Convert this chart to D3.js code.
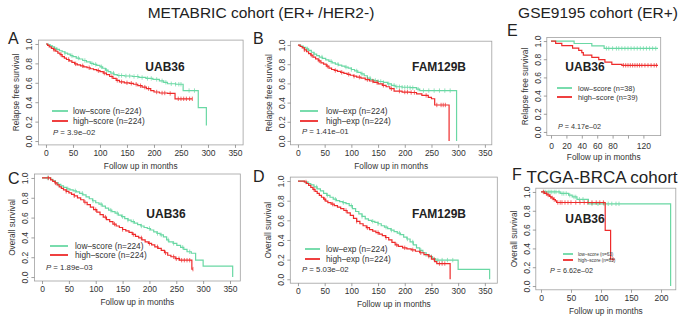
<!DOCTYPE html>
<html>
<head>
<meta charset="utf-8">
<script src="https://cdn.jsdelivr.net/npm/d3@7"></script>
<style>
  body { margin: 0; background: #fff; }
  svg text { font-family: "Liberation Sans", Arial, Helvetica, sans-serif; }
</style>
</head>
<body>
<svg id="fig" width="685" height="316"></svg>
<script>
// ---- data: [months, survival] steps ----
var uabRfsLow = [[0,1],[4,0.99],[8,0.98],[12,0.97],[16,0.955],[20,0.945],[25,0.93],[30,0.92],[35,0.905],[40,0.895],[45,0.88],[50,0.87],[56,0.855],[62,0.845],[68,0.83],[75,0.815],[82,0.8],[88,0.79],[94,0.78],[100,0.765],[105,0.75],[110,0.73],[115,0.715],[120,0.7],[126,0.685],[132,0.675],[145,0.67],[160,0.665],[172,0.655],[185,0.645],[198,0.635],[210,0.62],[218,0.605],[225,0.59],[240,0.585],[254,0.52],[282,0.345],[297,0.16]];
var uabRfsHigh = [[0,1],[3,0.985],[6,0.97],[10,0.955],[14,0.94],[18,0.925],[22,0.905],[26,0.89],[30,0.87],[34,0.855],[38,0.84],[43,0.825],[48,0.81],[53,0.795],[58,0.785],[64,0.775],[70,0.765],[76,0.755],[82,0.745],[88,0.735],[94,0.725],[100,0.715],[106,0.7],[112,0.685],[118,0.665],[124,0.645],[130,0.625],[136,0.61],[145,0.6],[155,0.595],[162,0.585],[170,0.57],[178,0.555],[186,0.54],[194,0.52],[200,0.505],[210,0.495],[225,0.49],[239,0.435],[271,0.435]];
var famRfsLow = [[0,1],[5,0.99],[10,0.975],[15,0.96],[20,0.945],[25,0.925],[30,0.905],[35,0.89],[40,0.875],[46,0.86],[52,0.845],[58,0.83],[64,0.815],[70,0.8],[76,0.79],[82,0.78],[88,0.77],[94,0.76],[100,0.745],[106,0.73],[112,0.715],[118,0.7],[124,0.68],[130,0.655],[136,0.64],[142,0.63],[150,0.62],[160,0.61],[168,0.595],[175,0.58],[182,0.565],[195,0.56],[210,0.555],[222,0.54],[228,0.525],[297,0]];
var famRfsHigh = [[0,1],[4,0.985],[8,0.97],[12,0.95],[16,0.93],[20,0.91],[24,0.895],[28,0.875],[33,0.855],[38,0.835],[43,0.815],[48,0.8],[53,0.78],[58,0.76],[63,0.745],[68,0.735],[74,0.725],[80,0.715],[86,0.705],[92,0.695],[98,0.685],[104,0.675],[110,0.665],[118,0.655],[126,0.64],[134,0.625],[142,0.61],[150,0.595],[158,0.58],[165,0.565],[172,0.545],[180,0.52],[195,0.51],[210,0.505],[222,0.49],[232,0.475],[244,0.455],[250,0.44],[256,0.375],[283,0]];
var uabOsLow = [[0,1],[16,0.985],[20,0.97],[25,0.95],[30,0.935],[35,0.92],[40,0.905],[46,0.89],[52,0.88],[58,0.87],[64,0.86],[70,0.845],[76,0.83],[82,0.81],[88,0.79],[94,0.77],[100,0.75],[106,0.735],[112,0.715],[118,0.695],[124,0.675],[130,0.66],[136,0.645],[142,0.625],[148,0.61],[154,0.59],[160,0.575],[166,0.56],[172,0.545],[178,0.53],[184,0.515],[190,0.5],[196,0.49],[202,0.475],[208,0.455],[214,0.44],[220,0.425],[226,0.405],[232,0.375],[236,0.355],[244,0.34],[251,0.32],[258,0.3],[264,0.28],[270,0.255],[278,0.24],[286,0.17],[300,0.11],[355,0]];
var uabOsHigh = [[0,1],[16,0.98],[20,0.965],[24,0.95],[28,0.93],[32,0.91],[36,0.895],[40,0.88],[45,0.865],[50,0.85],[55,0.835],[60,0.82],[66,0.8],[72,0.78],[78,0.755],[84,0.73],[90,0.705],[96,0.68],[102,0.655],[108,0.63],[114,0.605],[120,0.58],[126,0.56],[132,0.535],[138,0.515],[144,0.5],[150,0.48],[156,0.465],[162,0.45],[168,0.43],[174,0.41],[180,0.395],[186,0.375],[192,0.355],[198,0.34],[204,0.325],[210,0.305],[216,0.29],[222,0.27],[228,0.245],[234,0.22],[240,0.205],[248,0.185],[256,0.17],[279,0.08],[281,0.08]];
var famOsLow = [[0,1],[12,0.99],[18,0.975],[24,0.96],[30,0.94],[36,0.92],[42,0.9],[48,0.875],[54,0.855],[60,0.835],[66,0.815],[72,0.8],[78,0.79],[84,0.78],[90,0.77],[96,0.75],[102,0.72],[108,0.69],[114,0.665],[120,0.64],[126,0.615],[132,0.6],[138,0.59],[144,0.58],[150,0.565],[156,0.545],[162,0.53],[168,0.515],[174,0.5],[180,0.485],[186,0.47],[192,0.455],[198,0.43],[204,0.41],[210,0.38],[216,0.35],[222,0.32],[228,0.295],[234,0.27],[240,0.25],[246,0.23],[252,0.21],[258,0.195],[300,0.1],[359,0]];
var famOsHigh = [[0,1],[12,0.99],[16,0.975],[20,0.955],[24,0.935],[28,0.915],[32,0.895],[36,0.875],[40,0.855],[44,0.835],[48,0.815],[52,0.795],[56,0.78],[62,0.765],[68,0.75],[74,0.735],[80,0.72],[86,0.7],[92,0.675],[98,0.65],[104,0.62],[110,0.59],[116,0.565],[122,0.545],[128,0.525],[134,0.505],[140,0.49],[146,0.475],[152,0.46],[158,0.445],[164,0.425],[170,0.4],[176,0.375],[182,0.35],[188,0.335],[196,0.32],[204,0.31],[212,0.3],[220,0.285],[228,0.27],[236,0.25],[244,0.235],[250,0.205],[256,0.18],[260,0.16],[285,0]];
var uabGseLow = [[0,1],[30,0.973],[53,0.946],[69,0.919],[139,0.919]];
var uabGseHigh = [[0,1],[6,0.974],[14,0.949],[28,0.923],[36,0.897],[40,0.872],[42,0.846],[53,0.82],[62,0.795],[70,0.769],[79,0.744],[92,0.733],[139,0.733]];
var uabTcgaLow = [[0,1],[32,0.984],[46,0.966],[52,0.947],[60,0.922],[79,0.874],[216,0]];
var uabTcgaHigh = [[0,1],[6,0.984],[10,0.968],[14,0.952],[17,0.936],[21,0.92],[24,0.905],[26,0.888],[107,0.592],[116,0.285],[123,0.285]];

// censored times (months)
var uabRfsLowCens = [20,35,48,60,72,85,92,103,112,125,135,140,148,155,163,170,178,188,195,205,215,222,232,240,246,250,265,275];
var uabRfsHighCens = [15,28,42,55,68,80,97,108,122,132,140,150,158,167,175,183,190,205,215,220,230,245,250,255,260,266,271];
var famRfsLowCens = [18,30,45,62,75,90,100,110,120,135,145,150,155,160,170,180,185,190,195,200,205,210,215,225,235,245,255,265,275,285];
var famRfsHighCens = [12,25,40,55,70,82,95,105,115,130,140,148,160,175,190,200,205,212,218,240,260,268,272,276];
var uabOsLowCens = [10,30,48,62,75,95,110,128,140,150,160,170,185,200,215,222,235,245,262,275];
var uabOsHighCens = [12,25,45,60,80,100,118,135,150,170,185,200,215,230,245,250,255,260,265,270,275,281];
var famOsLowCens = [20,35,55,70,85,100,120,140,150,165,175,190,205,215,230,240,250,262,270,280,290];
var famOsHighCens = [15,30,50,65,90,110,130,150,165,185,200,215,230,245,255,265,270,275];
var uabGseLowCens = [72,75,80,85,88,92,96,100,104,108,112,116,120,124,128,132,136];
var uabGseHighCens = [94,97,100,103,106,109,112,115,118,122,126,130,134,137];
var uabTcgaLowCens = [5,8,12,15,18,22,25,30,35,38,42,48,55,58,64,70,85,95,105,112,118,125,130];
var uabTcgaHighCens = [4,9,12,16,19,22,28,32,35,40,45,50,58,65,72,78,85,92,98,104,120];

// tick values and labels
var yTicks = [0, 0.2, 0.4, 0.6, 0.8, 1.0];
var metabricXTicks = [0, 50, 100, 150, 200, 250, 300, 350];
var gseXTicks = [0, 20, 40, 60, 80, 100, 120];
var tcgaXTicks = [0, 50, 100, 150, 200];

var scoreLabels = ["low\u2013score", "high\u2013score"];
var expLabels = ["low\u2013exp", "high\u2013exp"];
var pValues = ["3.9e\u201302", "1.41e\u201301", "1.89e\u201303", "5.03e\u201302", "4.17e\u201302", "6.62e\u201302"];
var groupSizes = [[224, 224], [224, 224], [224, 224], [224, 224], [38, 39], [63, 63]];

var green = "#6ad8a4", red = "#ee2b2b";

// ---- layout ----
var panels = [
  { id: "A", box: [38.4, 40.1, 204.7, 104.8], xmax: 351, xticks: metabricXTicks, ylab: "Relapse free survival",
    gene: "UAB36", labels: scoreLabels, low: uabRfsLow, high: uabRfsHigh, lowC: uabRfsLowCens, highC: uabRfsHighCens,
    letter: [8, 38], geneAt: [165, 67], leg: [52, 68, 73, 111, 121], pAt: [53, 132], fs: 8.3, pfs: 7.8 },
  { id: "B", box: [290.5, 41.2, 201.3, 103.6], xmax: 349, xticks: metabricXTicks, ylab: "Relapse free survival",
    gene: "FAM129B", labels: expLabels, low: famRfsLow, high: famRfsHigh, lowC: famRfsLowCens, highC: famRfsHighCens,
    letter: [253, 38], geneAt: [439, 67], leg: [300, 318, 326, 111, 121], pAt: [302, 131], fs: 8.3, pfs: 7.8 },
  { id: "C", box: [34.4, 174.0, 205.9, 107.0], xmax: 355, xticks: metabricXTicks, ylab: "Overall survival",
    gene: "UAB36", labels: scoreLabels, low: uabOsLow, high: uabOsHigh, lowC: uabOsLowCens, highC: uabOsHighCens,
    letter: [8, 178], geneAt: [166, 214], leg: [50, 68, 75, 246, 255], pAt: [46, 267], fs: 8.3, pfs: 7.8 },
  { id: "D", box: [290.3, 177.1, 207, 106.1], xmax: 359, xticks: metabricXTicks, ylab: "Overall survival",
    gene: "FAM129B", labels: expLabels, low: famOsLow, high: famOsHigh, lowC: famOsLowCens, highC: famOsHighCens,
    letter: [253, 176], geneAt: [439, 214], leg: [305, 320, 326, 249, 259], pAt: [302, 269], fs: 8.3, pfs: 7.8 },
  { id: "E", box: [546.8, 37.4, 113.9, 98.2], xmax: 137, xticks: gseXTicks, ylab: "Relapse free survival",
    gene: "UAB36", labels: scoreLabels, low: uabGseLow, high: uabGseHigh, lowC: uabGseLowCens, highC: uabGseHighCens,
    letter: [507, 30], geneAt: [585, 67], leg: [557, 572, 578, 88, 97], pAt: [558, 126], fs: 7.4, pfs: 7.2, skip: [100], pad: 4 },
  { id: "F", box: [535.8, 188.2, 140, 101.6], xmax: 216, xticks: tcgaXTicks, ylab: "Overall survival",
    gene: "UAB36", labels: scoreLabels, low: uabTcgaLow, high: uabTcgaHigh, lowC: uabTcgaLowCens, highC: uabTcgaHighCens,
    letter: [512, 174], geneAt: [585, 219], leg: [563, 573, 578, 254, 260], pAt: [550, 270], fs: 4.6, pfs: 7.2 }
];

var svg = d3.select("#fig");

// cohort titles
svg.append("text").attr("x", 261).attr("y", 12).attr("text-anchor", "middle")
    .attr("dominant-baseline", "central").style("font-size", "15.5px").attr("fill", "#222")
    .text("METABRIC cohort (ER+ /HER2-)");
svg.append("text").attr("x", 598).attr("y", 12).attr("text-anchor", "middle")
    .attr("dominant-baseline", "central").style("font-size", "15.5px").attr("fill", "#222")
    .text("GSE9195 cohort (ER+)");
svg.append("text").attr("x", 602).attr("y", 177).attr("text-anchor", "middle")
    .attr("dominant-baseline", "central").style("font-size", "17px").attr("fill", "#222")
    .text("TCGA-BRCA cohort");

panels.forEach(function(p, i) { drawPanel(p, i); });

function drawPanel(p, i) {
  var bx = p.box[0], by = p.box[1], bw = p.box[2], bh = p.box[3];

  var x = d3.scaleLinear().domain([-0.04 * p.xmax, 1.04 * p.xmax]).range([bx, bx + bw]);
  var y = d3.scaleLinear().domain([-0.04, 1.04]).range([by + bh, by]);

  var g = svg.append("g").attr("class", "panel-" + p.id);

  // panel letter
  g.append("text")
      .attr("x", p.letter[0]).attr("y", p.letter[1])
      .attr("dominant-baseline", "central")
      .style("font-size", "16px").attr("fill", "#222")
      .text(p.id);

  // frame
  g.append("rect")
      .attr("x", bx).attr("y", by).attr("width", bw).attr("height", bh)
      .attr("fill", "none").attr("stroke", "#a0a0a0").attr("stroke-width", 0.8);

  // x axis
  var xAxis = g.append("g")
      .attr("transform", `translate(0, ${by + bh})`)
      .call(d3.axisBottom(x).tickValues(p.xticks).tickSize(3).tickPadding(p.pad || 2)
        .tickFormat(d => (p.skip && p.skip.indexOf(d) >= 0) ? "" : d));
  xAxis.select(".domain").remove();
  xAxis.selectAll("line").attr("stroke", "#777").attr("stroke-width", 0.7);
  xAxis.selectAll("text").attr("fill", "#333").style("font-size", "8.5px")
      .style("font-family", "'Liberation Sans', Arial, sans-serif");

  // y axis with rotated labels
  var yAxis = g.append("g")
      .attr("transform", `translate(${bx}, 0)`)
      .call(d3.axisLeft(y).tickValues(yTicks).tickSize(3).tickFormat(d3.format(".1f")));
  yAxis.select(".domain").remove();
  yAxis.selectAll("line").attr("stroke", "#777").attr("stroke-width", 0.7);
  yAxis.selectAll("text")
      .attr("x", 0).attr("y", -6).attr("dy", 0)
      .attr("transform", "rotate(-90)")
      .attr("text-anchor", "middle")
      .attr("fill", "#333").style("font-size", "8.5px")
      .style("font-family", "'Liberation Sans', Arial, sans-serif");

  // axis titles
  g.append("text")
      .attr("x", bx + bw / 2).attr("y", by + bh + 21)
      .attr("text-anchor", "middle").attr("dominant-baseline", "central")
      .style("font-size", "8.3px").attr("fill", "#333")
      .text("Follow up in months");
  g.append("text")
      .attr("transform", `translate(${bx - 22}, ${by + bh / 2}) rotate(-90)`)
      .attr("text-anchor", "middle").attr("dominant-baseline", "central")
      .style("font-size", "8.3px").attr("fill", "#333")
      .text(p.ylab);

  // KM curves
  var line = d3.line()
      .x(d => x(d[0]))
      .y(d => y(d[1]))
      .curve(d3.curveStepAfter);

  var series = [
    { pts: p.low, cens: p.lowC, color: green },
    { pts: p.high, cens: p.highC, color: red }
  ];
  var bis = d3.bisector(d => d[0]).right;

  series.forEach(function(s) {
    g.append("path")
        .attr("d", line(s.pts))
        .attr("fill", "none")
        .attr("stroke", s.color)
        .attr("stroke-width", 1.2);

    // censor marks
    g.selectAll(null)
      .data(s.cens)
      .enter()
      .append("line")
        .attr("x1", d => x(d)).attr("x2", d => x(d))
        .attr("y1", d => y(s.pts[Math.max(0, bis(s.pts, d) - 1)][1]) - 2.2)
        .attr("y2", d => y(s.pts[Math.max(0, bis(s.pts, d) - 1)][1]) + 2.2)
        .attr("stroke", s.color)
        .attr("stroke-width", 0.7);
  });

  // gene label
  g.append("text")
      .attr("x", p.geneAt[0]).attr("y", p.geneAt[1])
      .attr("text-anchor", "middle").attr("dominant-baseline", "central")
      .style("font-size", "12px").style("font-weight", "bold").attr("fill", "#222")
      .text(p.gene);

  // legend
  var n = groupSizes[i];
  [green, red].forEach(function(c, k) {
    var ly = p.leg[3 + k];
    g.append("line")
        .attr("x1", p.leg[0]).attr("x2", p.leg[1])
        .attr("y1", ly).attr("y2", ly)
        .attr("stroke", c).attr("stroke-width", 1.8);
    g.append("text")
        .attr("x", p.leg[2]).attr("y", ly)
        .attr("dominant-baseline", "central")
        .style("font-size", p.fs + "px").attr("fill", "#333")
        .text(`${p.labels[k]} (n=${n[k]})`);
  });

  // p-value
  var pt = g.append("text")
      .attr("x", p.pAt[0]).attr("y", p.pAt[1])
      .attr("dominant-baseline", "central")
      .style("font-size", p.pfs + "px").attr("fill", "#333");
  pt.append("tspan").style("font-style", "italic").text("P");
  pt.append("tspan").text(" = " + pValues[i]);
}
</script>
</body>
</html>
